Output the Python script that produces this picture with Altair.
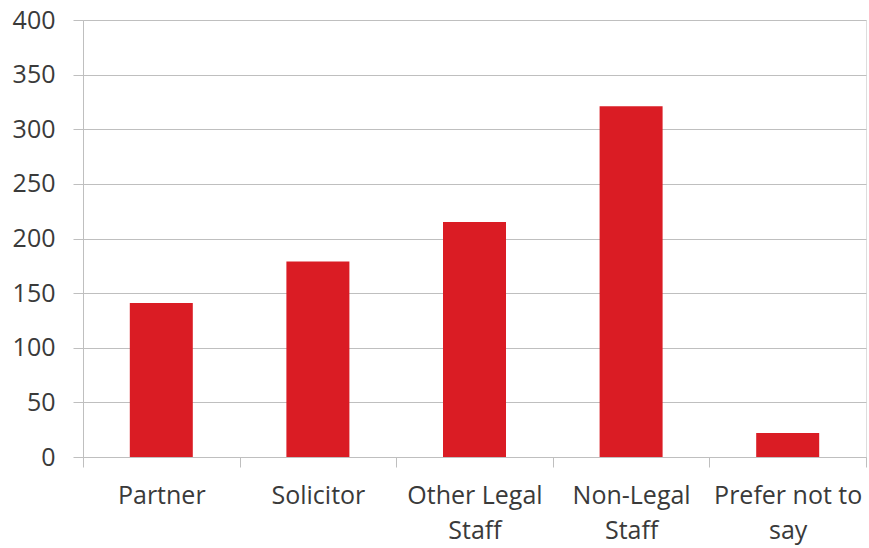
import altair as alt
import pandas as pd

categories = ["Partner", "Solicitor", "Other Legal|Staff", "Non-Legal|Staff", "Prefer not to|say"]
values = [141, 179, 215, 321, 22]
y_ticks = [0, 50, 100, 150, 200, 250, 300, 350, 400]

df = pd.DataFrame({"category": categories, "value": values})

FONT = "Open Sans"
TXT = "#3A3A3A"
GRID = "#BFBFBF"

chart = alt.Chart(df).mark_bar(size=63, color="#DA1C24").encode(
    x=alt.X(
        "category:N",
        sort=categories,
        title=None,
        scale=alt.Scale(paddingInner=0, paddingOuter=0),
        axis=alt.Axis(
            labelExpr="split(datum.label, '|')",
            labelAngle=0,
            labelFont=FONT,
            labelFontSize=25,
            labelColor=TXT,
            labelLineHeight=35,
            labelPadding=16,
            tickBand="extent",
            tickSize=10,
            tickColor=GRID,
            domainColor=GRID,
            labelLimit=300,
        ),
    ),
    y=alt.Y(
        "value:Q",
        title=None,
        scale=alt.Scale(domain=[0, 400], nice=False),
        axis=alt.Axis(
            values=y_ticks,
            labelFont=FONT,
            labelFontSize=25,
            labelColor=TXT,
            labelPadding=18,
            tickSize=10,
            tickColor=GRID,
            domainColor=GRID,
            gridColor=GRID,
        ),
    ),
).properties(
    width=783,
    height=437,
    padding={"left": 83, "top": 20, "right": 3, "bottom": 91},
    autosize=alt.AutoSizeParams(type="none"),
).configure_view(stroke=None).configure(background="white")

chart.save("out.html", embed_options={"renderer": "svg", "actions": False})
